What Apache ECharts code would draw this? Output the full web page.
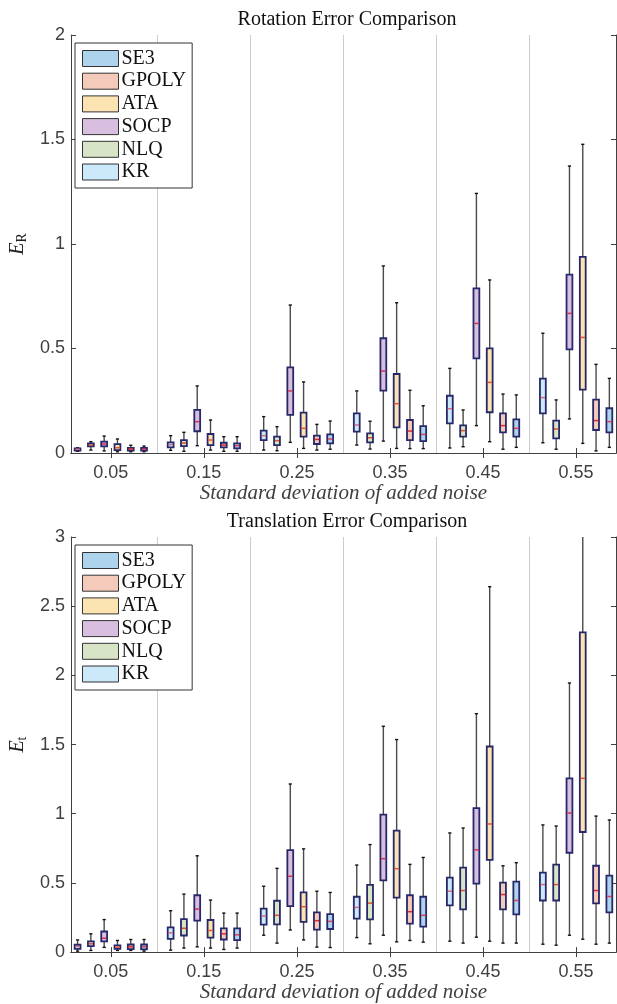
<!DOCTYPE html>
<html>
<head>
<meta charset="utf-8">
<script src="https://cdn.jsdelivr.net/npm/echarts@6/dist/echarts.min.js"></script>
<style>
html,body{margin:0;padding:0;background:#fff;}
#chart{width:617px;height:1004px;}
</style>
</head>
<body>
<div id="chart"></div>
<script>
// ---------------- data ----------------
const groups = ['0.05', '0.15', '0.25', '0.35', '0.45', '0.55'];
const methods = ['SE3', 'GPOLY', 'ATA', 'SOCP', 'NLQ', 'KR'];
// left-to-right order of the boxes inside each group
const boxOrder = ['KR', 'NLQ', 'SOCP', 'ATA', 'GPOLY', 'SE3'];

// each entry: [lower whisker, Q1, median, Q3, upper whisker], one per noise level
const rotSE3   = [[0.006,0.011,0.018,0.024,0.033],[0.008,0.022,0.035,0.046,0.078],[0.018,0.046,0.067,0.089,0.153],[0.021,0.057,0.089,0.129,0.226],[0.027,0.078,0.118,0.161,0.278],[0.027,0.099,0.150,0.214,0.357]];
const rotGPOLY = [[0.006,0.011,0.019,0.025,0.037],[0.008,0.027,0.038,0.049,0.078],[0.014,0.043,0.065,0.083,0.137],[0.021,0.062,0.105,0.158,0.300],[0.018,0.099,0.131,0.190,0.282],[0.010,0.110,0.155,0.255,0.424]];
const rotATA   = [[0.006,0.014,0.025,0.042,0.067],[0.014,0.038,0.062,0.091,0.158],[0.022,0.078,0.118,0.193,0.340],[0.022,0.123,0.236,0.378,0.719],[0.054,0.195,0.338,0.501,0.828],[0.046,0.303,0.553,0.938,1.477]];
const rotSOCP  = [[0.010,0.032,0.043,0.054,0.081],[0.035,0.104,0.150,0.206,0.321],[0.051,0.182,0.297,0.410,0.708],[0.057,0.298,0.392,0.549,0.895],[0.131,0.453,0.620,0.788,1.242],[0.163,0.496,0.668,0.853,1.373]];
const rotNLQ   = [[0.014,0.032,0.038,0.046,0.054],[0.008,0.033,0.048,0.062,0.099],[0.011,0.038,0.059,0.078,0.126],[0.019,0.051,0.073,0.094,0.152],[0.030,0.078,0.107,0.132,0.206],[0.018,0.070,0.115,0.155,0.254]];
const rotKR    = [[0.008,0.011,0.018,0.022,0.025],[0.013,0.027,0.040,0.051,0.083],[0.014,0.062,0.083,0.107,0.174],[0.038,0.102,0.134,0.190,0.297],[0.024,0.142,0.212,0.274,0.405],[0.049,0.190,0.265,0.356,0.573]];

const traSE3   = [[0.007,0.019,0.038,0.055,0.091],[0.029,0.086,0.125,0.172,0.282],[0.033,0.167,0.222,0.275,0.431],[0.072,0.184,0.266,0.400,0.684],[0.065,0.273,0.373,0.510,0.646],[0.065,0.287,0.402,0.553,0.955]];
const traGPOLY = [[0.012,0.022,0.038,0.055,0.091],[0.019,0.091,0.132,0.172,0.282],[0.036,0.163,0.227,0.287,0.440],[0.084,0.206,0.292,0.411,0.634],[0.065,0.309,0.416,0.502,0.624],[0.057,0.352,0.445,0.624,0.983]];
const traATA   = [[0.012,0.024,0.036,0.048,0.084],[0.029,0.105,0.156,0.232,0.376],[0.088,0.218,0.328,0.431,0.746],[0.074,0.393,0.603,0.878,1.536],[0.079,0.667,0.926,1.486,2.641],[0.093,0.868,1.256,2.311,3.050]];
const traSOCP  = [[0.034,0.077,0.100,0.149,0.235],[0.038,0.228,0.311,0.411,0.696],[0.160,0.332,0.548,0.737,1.215],[0.122,0.519,0.675,0.993,1.632],[0.108,0.495,0.739,1.041,1.723],[0.122,0.718,1.005,1.256,1.945]];
const traNLQ   = [[0.012,0.043,0.060,0.077,0.132],[0.029,0.120,0.172,0.239,0.419],[0.065,0.201,0.266,0.371,0.605],[0.060,0.237,0.354,0.486,0.777],[0.065,0.309,0.445,0.610,0.897],[0.050,0.373,0.488,0.632,0.911]];
const traKR    = [[0.007,0.024,0.041,0.053,0.088],[0.014,0.096,0.139,0.179,0.299],[0.122,0.199,0.261,0.314,0.476],[0.105,0.242,0.323,0.400,0.629],[0.079,0.337,0.440,0.538,0.861],[0.057,0.373,0.488,0.574,0.919]];

const yTicksRot = [0, 0.5, 1, 1.5, 2];
const yTicksTra = [0, 0.5, 1, 1.5, 2, 2.5, 3];

const panels = [
  { title: 'Rotation Error Comparison', sub: 'R', yMax: 2,
    data: { SE3: rotSE3, GPOLY: rotGPOLY, ATA: rotATA, SOCP: rotSOCP, NLQ: rotNLQ, KR: rotKR } },
  { title: 'Translation Error Comparison', sub: 't', yMax: 3,
    data: { SE3: traSE3, GPOLY: traGPOLY, ATA: traATA, SOCP: traSOCP, NLQ: traNLQ, KR: traKR } }
];

// ---------------- styles ----------------
const fill = { SE3: '#aed3ec', GPOLY: '#f4cbba', ATA: '#fce4b2', SOCP: '#d9bfdf', NLQ: '#d7e5c6', KR: '#cbe9f9' };
const medianColor = { SE3: '#e0405a', GPOLY: '#e8262a', ATA: '#f0502a', SOCP: '#d4304e', NLQ: '#e0502e', KR: '#d86a7c' };
const boxEdge = '#26286a';
const whiskerColor = '#4a4a4a';
const axisColor = '#404040';

const slotsPerGroup = groups.length + 1;          // 6 boxes + a gap slot
const xMin = 0.5, xMax = groups.length * slotsPerGroup - 0.5;
const centers = groups.map((g, i) => i * slotsPerGroup + (boxOrder.length + 1) / 2);
const separators = groups.slice(1).map((g, i) => (i + 1) * slotsPerGroup);

function renderBox(params, api) {
  const x = api.value(0);
  const lo = api.coord([x, api.value(1)]);
  const q1 = api.coord([x, api.value(2)]);
  const md = api.coord([x, api.value(3)]);
  const q3 = api.coord([x, api.value(4)]);
  const hi = api.coord([x, api.value(5)]);
  const bw = api.size([0.44, 0])[0];
  const cw = api.size([0.24, 0])[0];
  const name = params.seriesName;
  const cx = md[0];
  const wl = { stroke: whiskerColor, lineWidth: 1.4 };
  const cl = { stroke: '#111', lineWidth: 1.4 };
  return {
    type: 'group',
    children: [
      { type: 'line', shape: { x1: cx, y1: hi[1], x2: cx, y2: q3[1] }, style: wl },
      { type: 'line', shape: { x1: cx, y1: q1[1], x2: cx, y2: lo[1] }, style: wl },
      { type: 'line', shape: { x1: cx - cw / 2, y1: hi[1], x2: cx + cw / 2, y2: hi[1] }, style: cl },
      { type: 'line', shape: { x1: cx - cw / 2, y1: lo[1], x2: cx + cw / 2, y2: lo[1] }, style: cl },
      { type: 'rect', shape: { x: cx - bw / 2, y: q3[1], width: bw, height: q1[1] - q3[1] },
        style: { fill: fill[name], stroke: boxEdge, lineWidth: 1.8 } },
      { type: 'line', shape: { x1: cx - bw / 2 + 0.8, y1: md[1], x2: cx + bw / 2 - 0.8, y2: md[1] },
        style: { stroke: medianColor[name], lineWidth: 1.5 } }
    ]
  };
}

const gridTop = [35, 537];
const gridH = 418;

const option = {
  animation: false,
  backgroundColor: '#fff',
  title: panels.map((p, i) => ({
    text: p.title, left: 342, textAlign: 'center', top: gridTop[i] - 30,
    textStyle: { fontFamily: 'Liberation Serif', fontWeight: 'normal', fontSize: 20, color: '#111' }
  })),
  legend: panels.map((p, i) => ({
    orient: 'vertical', left: 75, top: gridTop[i] + 8,
    itemWidth: 36, itemHeight: 16, itemGap: 2.7,
    padding: [5.5, 6, 6, 7],
    borderColor: '#333', borderWidth: 1, backgroundColor: '#fff',
    selectedMode: false,
    textStyle: { fontFamily: 'Liberation Serif', fontSize: 20, color: '#111', padding: [0, 0, 0, -2] },
    data: methods.map(m => ({ name: m, icon: 'rect', itemStyle: { color: fill[m], borderColor: '#333', borderWidth: 1 } }))
  })),
  grid: panels.map((p, i) => ({ left: 68, top: gridTop[i], width: 548, height: gridH })),
  xAxis: panels.flatMap((p, i) => ([
    {
      type: 'value', gridIndex: i, min: xMin, max: xMax,
      name: 'Standard deviation of added noise', nameLocation: 'middle', nameGap: 27,
      nameTextStyle: { fontFamily: 'Liberation Serif', fontStyle: 'italic', fontSize: 21, color: axisColor },
      axisLine: { show: true, lineStyle: { color: axisColor, width: 1 } },
      axisTick: { show: true, inside: true, length: 5, customValues: centers, lineStyle: { color: axisColor } },
      axisLabel: { show: true, customValues: centers, margin: 11, fontFamily: 'Liberation Sans', fontSize: 18, color: axisColor,
        formatter: v => groups[Math.round((v - centers[0]) / slotsPerGroup)] },
      splitLine: { show: false }
    },
    {
      type: 'value', gridIndex: i, min: xMin, max: xMax, position: 'top',
      axisLine: { show: true, lineStyle: { color: axisColor, width: 1 } },
      axisTick: { show: true, inside: true, length: 5, customValues: centers, lineStyle: { color: axisColor } },
      axisLabel: { show: false },
      splitLine: { show: false }
    }
  ])),
  yAxis: panels.flatMap((p, i) => ([
    {
      type: 'value', gridIndex: i, min: 0, max: p.yMax, interval: 0.5,
      name: '{e|E}{s|' + p.sub + '}', nameLocation: 'middle', nameGap: 34,
      nameTextStyle: { rich: {
        e: { fontFamily: 'Liberation Serif', fontStyle: 'italic', fontSize: 20, color: '#222' },
        s: { fontFamily: 'Liberation Serif', fontSize: 14, color: '#222', padding: [8, 0, 0, 0] }
      } },
      axisLine: { show: true, lineStyle: { color: axisColor, width: 1 } },
      axisTick: { show: true, inside: true, length: 5, lineStyle: { color: axisColor } },
      axisLabel: { margin: 6, fontFamily: 'Liberation Sans', fontSize: 18, color: axisColor,
        formatter: v => String(v) },
      splitLine: { show: false }
    },
    {
      type: 'value', gridIndex: i, min: 0, max: p.yMax, interval: 0.5, position: 'right',
      axisLine: { show: true, lineStyle: { color: axisColor, width: 1 } },
      axisTick: { show: true, inside: true, length: 5, lineStyle: { color: axisColor } },
      axisLabel: { show: false },
      splitLine: { show: false }
    }
  ])),
  series: panels.flatMap((p, i) => methods.map((m, k) => ({
    type: 'custom', name: m,
    xAxisIndex: i * 2, yAxisIndex: i * 2,
    clip: true,
    itemStyle: { color: fill[m] },
    renderItem: renderBox,
    dimensions: ['x', 'lo', 'q1', 'med', 'q3', 'hi'],
    encode: { x: 0, y: [1, 2, 3, 4, 5] },
    data: p.data[m].map((s, g) => [g * slotsPerGroup + boxOrder.indexOf(m) + 1].concat(s)),
    z: 3,
    markLine: k === 0 ? {
      silent: true, symbol: ['none', 'none'], label: { show: false },
      lineStyle: { color: '#cdcdcd', type: 'solid', width: 1 },
      data: separators.map(v => ({ xAxis: v })), z: 1
    } : undefined
  })))
};

const chart = echarts.init(document.getElementById('chart'), null, { renderer: 'canvas' });
chart.setOption(option);
</script>
</body>
</html>
